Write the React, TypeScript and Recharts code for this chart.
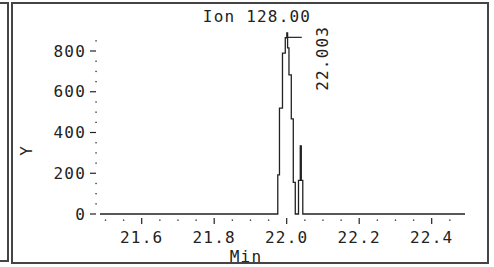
import { LineChart, Line, XAxis, YAxis, ReferenceDot } from 'recharts'

const INK = '#222'
const FONT = '"DejaVu Sans Mono", monospace'

// retention time (min) and abundance
const times = [21.485, 21.9754, 21.9801, 21.9884, 21.9961, 22.0003, 22.0025, 22.0063, 22.0127, 22.0182, 22.0237, 22.0326, 22.0375, 22.0403, 22.0444, 22.4919]
const intensity = [0, 192, 520, 790, 865, 889, 815, 683, 467, 155, 0, 165, 334, 165, 0, 0]

const xMajorTicks = [21.6, 21.8, 22.0, 22.2, 22.4]
const xTicks = [21.5, 21.55, 21.6, 21.65, 21.7, 21.75, 21.8, 21.85, 21.9, 21.95, 22.0, 22.05, 22.1, 22.15, 22.2, 22.25, 22.3, 22.35, 22.4, 22.45]
const yMajorTicks = [0, 200, 400, 600, 800]
const yTicks = [0, 50, 100, 150, 200, 250, 300, 350, 400, 450, 500, 550, 600, 650, 700, 750, 800, 850]

const apexTime = 22.003
const apexMark = 867
const title = 'Ion 128.00'

const data = times.map((t, i) => ({ t, v: intensity[i] }))

const isMajor = (list: number[], v: number) => list.some(m => Math.abs(m - v) < 1e-6)

function XTick({ x, y, payload }: any) {
  if (isMajor(xMajorTicks, payload.value)) {
    return (
      <g>
        <line x1={x} x2={x} y1={y + 4} y2={y + 10} stroke={INK} strokeWidth={1.2} />
        <text x={x} y={y + 23} textAnchor="middle" dominantBaseline="central"
          fontFamily={FONT} fontSize={16} letterSpacing={1.2} fill={INK}>
          {payload.value.toFixed(1)}
        </text>
      </g>
    )
  }
  return <rect x={x - 0.6} y={y + 5.5} width={1.3} height={1.3} fill={INK} />
}

function YTick({ x, y, payload }: any) {
  if (isMajor(yMajorTicks, payload.value)) {
    return (
      <g>
        <line x1={x - 10} x2={x - 4} y1={y} y2={y} stroke={INK} strokeWidth={1.2} />
        <text x={x - 14} y={y} textAnchor="end" dominantBaseline="central"
          fontFamily={FONT} fontSize={16} letterSpacing={1.2} fill={INK}>
          {payload.value}
        </text>
      </g>
    )
  }
  return <rect x={x - 4.6} y={y - 0.6} width={1.3} height={1.3} fill={INK} />
}

function ApexMark({ cx, cy }: any) {
  return (
    <g>
      <line x1={cx} x2={cx + 14} y1={cy} y2={cy} stroke={INK} strokeWidth={1.2} />
      <text transform={`translate(${cx + 35},${cy + 21}) rotate(-90)`} textAnchor="middle"
        dominantBaseline="central" fontFamily={FONT} fontSize={16} letterSpacing={1.2} fill={INK}>
        {apexTime.toFixed(3)}
      </text>
    </g>
  )
}

export default function App() {
  return (
    <div style={{ position: 'absolute', left: 0, top: 0, width: 494, height: 267, background: '#fff' }}>
      <div style={{ position: 'absolute', left: 0, top: 2, width: 9, height: 260, boxSizing: 'border-box',
        borderTop: '2px solid #444', borderRight: '2px solid #444', borderBottom: '2px solid #444' }} />
      <div style={{ position: 'absolute', left: 11, top: 2, width: 478, height: 262, boxSizing: 'border-box',
        border: '2px solid #444' }} />
      <div style={{ position: 'absolute', left: 0, top: 0 }}>
        <LineChart width={494} height={267} data={data}
          margin={{ top: 10.25, right: 29, bottom: 23, left: 40 }}>
          <XAxis dataKey="t" type="number" domain={[21.485, 22.4919]} ticks={xTicks} interval={0}
            axisLine={false} tickLine={false} tickSize={0} tickMargin={0} height={30} tick={<XTick />} />
          <YAxis type="number" domain={[0, 1000]} ticks={yTicks} interval={0} width={60}
            axisLine={false} tickLine={false} tickSize={0} tickMargin={0} tick={<YTick />} />
          <Line type="stepAfter" dataKey="v" stroke={INK} strokeWidth={1.3} dot={false}
            isAnimationActive={false} />
          <ReferenceDot x={apexTime} y={apexMark} r={0} shape={<ApexMark />} />
        </LineChart>
      </div>
      <svg width={494} height={267} style={{ position: 'absolute', left: 0, top: 0, pointerEvents: 'none' }}>
        <text x={257} y={16.5} textAnchor="middle" dominantBaseline="central"
          fontFamily={FONT} fontSize={16} letterSpacing={1.2} fill={INK}>{title}</text>
        <text transform="translate(26,151) rotate(-90)" textAnchor="middle" dominantBaseline="central"
          fontFamily={FONT} fontSize={16} fill={INK}>Y</text>
        <text x={246} y={256} textAnchor="middle" dominantBaseline="central"
          fontFamily={FONT} fontSize={16} letterSpacing={1.2} fill={INK}>Min</text>
      </svg>
    </div>
  )
}
